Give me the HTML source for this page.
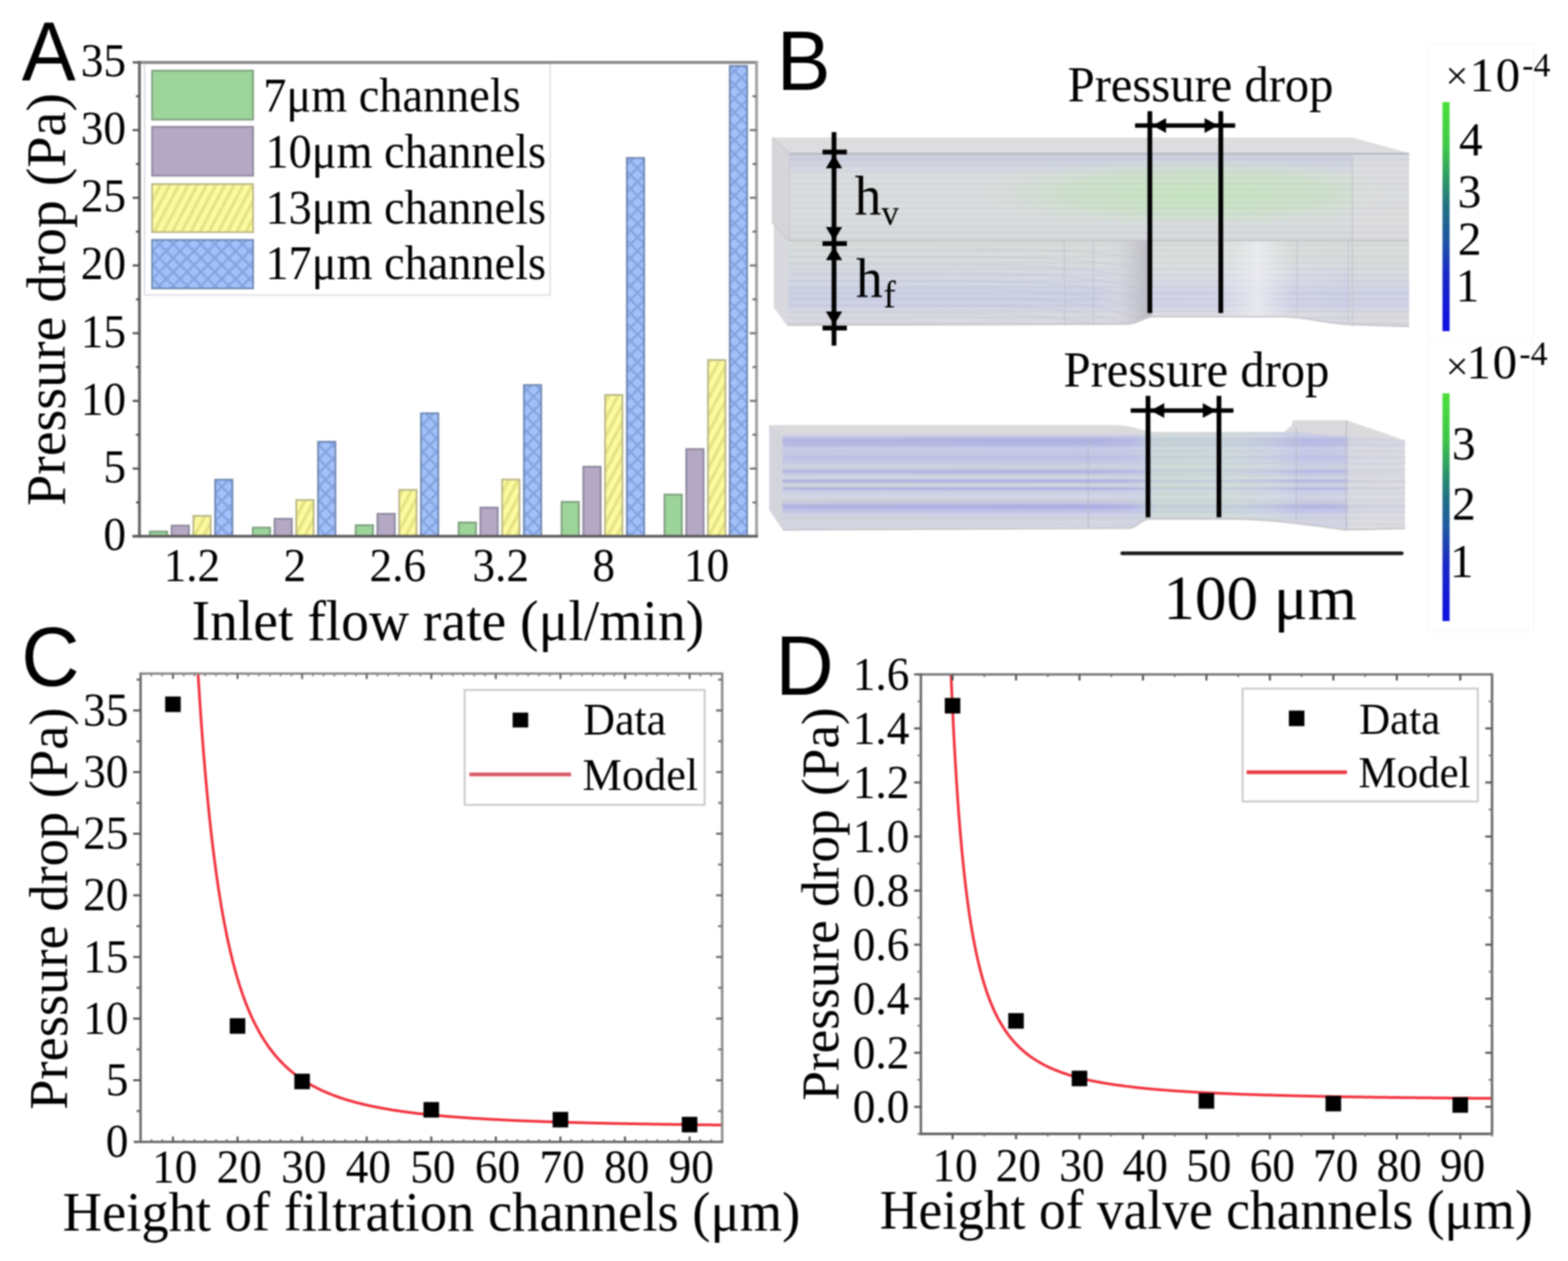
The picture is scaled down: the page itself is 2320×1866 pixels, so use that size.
<!DOCTYPE html>
<html><head><meta charset="utf-8"><title>Pressure drop figure</title>
<style>
html,body{margin:0;padding:0;background:#fff;}
svg{display:block;}
#fig{filter:blur(1px);width:2320px;height:1866px;}
</style></head>
<body>
<div id="fig"><svg width="2320" height="1866" viewBox="0 0 2320 1866">

<defs>
  <pattern id="hatchY" patternUnits="userSpaceOnUse" width="12" height="12" patternTransform="rotate(28)">
    <rect width="12" height="12" fill="#fbfa9e"/>
    <rect x="0" y="0" width="4.5" height="12" fill="#e6e284"/>
  </pattern>
  <pattern id="crossB" patternUnits="userSpaceOnUse" width="14.5" height="14.5" patternTransform="rotate(45)">
    <rect width="14.5" height="14.5" fill="#a2c0fa"/>
    <rect x="0" y="0" width="3.5" height="14.5" fill="#86a4e0"/>
    <rect x="0" y="0" width="14.5" height="3.5" fill="#86a4e0"/>
  </pattern>
  <linearGradient id="cbar" x1="0" y1="1" x2="0" y2="0">
    <stop offset="0" stop-color="#1010e0"/>
    <stop offset="0.25" stop-color="#1a2ac6"/>
    <stop offset="0.4" stop-color="#1e56a2"/>
    <stop offset="0.55" stop-color="#227282"/>
    <stop offset="0.66" stop-color="#2c9866"/>
    <stop offset="0.8" stop-color="#40c64a"/>
    <stop offset="1" stop-color="#4ce03c"/>
  </linearGradient>
  <pattern id="streamU" patternUnits="userSpaceOnUse" width="40" height="9">
    <rect width="40" height="9" fill="none"/>
    <line x1="0" y1="2" x2="40" y2="2" stroke="#b8bcd4" stroke-width="1.4" opacity="0.55"/>
    <line x1="0" y1="6.5" x2="40" y2="6.5" stroke="#eef0f4" stroke-width="1.2" opacity="0.5"/>
  </pattern>
  <pattern id="streamL" patternUnits="userSpaceOnUse" width="40" height="11">
    <rect width="40" height="11" fill="none"/>
    <line x1="0" y1="2.5" x2="40" y2="2.5" stroke="#a8aee0" stroke-width="3" opacity="0.75"/>
    <line x1="0" y1="7.5" x2="40" y2="7.5" stroke="#e4e6ee" stroke-width="2" opacity="0.6"/>
  </pattern>
  <linearGradient id="upFront" x1="0" y1="0" x2="1" y2="0">
    <stop offset="0" stop-color="#d6d9e2"/>
    <stop offset="0.45" stop-color="#d4dad8"/>
    <stop offset="0.65" stop-color="#cfdccf"/>
    <stop offset="0.85" stop-color="#d6dad8"/>
    <stop offset="1" stop-color="#dcdde0"/>
  </linearGradient>
  <linearGradient id="upGreen" x1="0" y1="0" x2="0" y2="1">
    <stop offset="0" stop-color="#c8dcc8" stop-opacity="0"/>
    <stop offset="0.45" stop-color="#c4e0c0" stop-opacity="0.8"/>
    <stop offset="1" stop-color="#c8dcc8" stop-opacity="0"/>
  </linearGradient>
  <linearGradient id="upBands" x1="0" y1="0" x2="0" y2="1">
    <stop offset="0" stop-color="#c4c8da" stop-opacity="0.85"/>
    <stop offset="0.12" stop-color="#ccd0e0" stop-opacity="0.8"/>
    <stop offset="0.2" stop-color="#d0d4e0" stop-opacity="0.45"/>
    <stop offset="0.32" stop-color="#dfe2e6" stop-opacity="0"/>
    <stop offset="0.75" stop-color="#dfe2e6" stop-opacity="0"/>
    <stop offset="0.88" stop-color="#ccd0dc" stop-opacity="0.35"/>
    <stop offset="1" stop-color="#d0d2da" stop-opacity="0.3"/>
  </linearGradient>
  <radialGradient id="upGreenH" cx="1770" cy="286" r="330" gradientUnits="userSpaceOnUse" gradientTransform="translate(1770 286) scale(1 0.16) translate(-1770 -286)">
    <stop offset="0" stop-color="#c4e4bc" stop-opacity="1"/>
    <stop offset="0.6" stop-color="#c8e0c4" stop-opacity="0.75"/>
    <stop offset="1" stop-color="#d4dcd4" stop-opacity="0"/>
  </radialGradient>
  <linearGradient id="cyl" x1="0" y1="0" x2="1" y2="0">
    <stop offset="0" stop-color="#dcdce2" stop-opacity="0"/>
    <stop offset="0.4" stop-color="#d6d6dc" stop-opacity="0.6"/>
    <stop offset="1" stop-color="#b4b4bc" stop-opacity="0.9"/>
  </linearGradient>
  <linearGradient id="bright" x1="0" y1="0" x2="1" y2="0">
    <stop offset="0" stop-color="#f0f0f2" stop-opacity="0"/>
    <stop offset="0.55" stop-color="#f0f0f4" stop-opacity="0.7"/>
    <stop offset="1" stop-color="#f0f0f2" stop-opacity="0"/>
  </linearGradient>
  <linearGradient id="loBands" x1="0" y1="356" x2="0" y2="481" gradientUnits="userSpaceOnUse">
    <stop offset="0" stop-color="#d6dcd6" stop-opacity="0.9"/>
    <stop offset="0.25" stop-color="#d6dcd8" stop-opacity="0.8"/>
    <stop offset="0.45" stop-color="#d0d4e0" stop-opacity="0.5"/>
    <stop offset="0.62" stop-color="#c8cce4" stop-opacity="0.75"/>
    <stop offset="0.78" stop-color="#cacde4" stop-opacity="0.7"/>
    <stop offset="0.86" stop-color="#d8d8de" stop-opacity="0.7"/>
    <stop offset="1" stop-color="#d6d6dc" stop-opacity="0.6"/>
  </linearGradient>
  <linearGradient id="loFront" x1="1166" y1="0" x2="2085" y2="0" gradientUnits="userSpaceOnUse">
    <stop offset="0" stop-color="#d6d8e2"/>
    <stop offset="0.49" stop-color="#d8dae4"/>
    <stop offset="0.585" stop-color="#e0e0e6"/>
    <stop offset="0.7" stop-color="#e2e2e8"/>
    <stop offset="0.82" stop-color="#e0e0e8"/>
    <stop offset="0.9" stop-color="#d4d4e6"/>
    <stop offset="0.905" stop-color="#dcdcde"/>
    <stop offset="1" stop-color="#dcdcde"/>
  </linearGradient>
  <linearGradient id="chan2" x1="0" y1="0" x2="1" y2="0">
    <stop offset="0" stop-color="#c4c6e6"/>
    <stop offset="0.6" stop-color="#c6c8e8"/>
    <stop offset="0.66" stop-color="#c8d8d6"/>
    <stop offset="0.8" stop-color="#ccdad6"/>
    <stop offset="0.86" stop-color="#cccfe6"/>
    <stop offset="1" stop-color="#d4d4e4"/>
  </linearGradient>
  <linearGradient id="stripeL" x1="0" y1="643" x2="0" y2="784" gradientUnits="userSpaceOnUse">
    <stop offset="0.0000" stop-color="#d0d2e4"/>
    <stop offset="0.0213" stop-color="#c0c4e6"/>
    <stop offset="0.0496" stop-color="#b0b4e0"/>
    <stop offset="0.0851" stop-color="#a8ace0"/>
    <stop offset="0.1135" stop-color="#b6bae4"/>
    <stop offset="0.1418" stop-color="#c4c6ea"/>
    <stop offset="0.1773" stop-color="#c8cae8"/>
    <stop offset="0.2057" stop-color="#c2c4e0"/>
    <stop offset="0.2340" stop-color="#babee6"/>
    <stop offset="0.2766" stop-color="#c0c2e8"/>
    <stop offset="0.3121" stop-color="#cdd0e0"/>
    <stop offset="0.3617" stop-color="#cbcde0"/>
    <stop offset="0.3901" stop-color="#a8ace2"/>
    <stop offset="0.4113" stop-color="#bcbfe4"/>
    <stop offset="0.4326" stop-color="#d6d8e0"/>
    <stop offset="0.4610" stop-color="#d2d4e0"/>
    <stop offset="0.4823" stop-color="#a4a8e2"/>
    <stop offset="0.5035" stop-color="#bcbfe2"/>
    <stop offset="0.5248" stop-color="#d4d6da"/>
    <stop offset="0.5461" stop-color="#cccfdc"/>
    <stop offset="0.5674" stop-color="#a8aae4"/>
    <stop offset="0.5887" stop-color="#c2c4e6"/>
    <stop offset="0.6170" stop-color="#d4d6e6"/>
    <stop offset="0.6667" stop-color="#d2d4e6"/>
    <stop offset="0.6950" stop-color="#ccd0d6"/>
    <stop offset="0.7234" stop-color="#bec0e0"/>
    <stop offset="0.7447" stop-color="#aaace2"/>
    <stop offset="0.7801" stop-color="#aeb0e4"/>
    <stop offset="0.8085" stop-color="#c4c8ea"/>
    <stop offset="0.8440" stop-color="#ced0e6"/>
    <stop offset="0.8723" stop-color="#d2d4dc"/>
    <stop offset="0.9078" stop-color="#d2d4dc"/>
    <stop offset="0.9362" stop-color="#d8d8e6"/>
    <stop offset="1.0000" stop-color="#d6d6e2"/>
  </linearGradient>
  <linearGradient id="tintL" x1="1158" y1="0" x2="2079" y2="0" gradientUnits="userSpaceOnUse">
    <stop offset="0" stop-color="#d0d2dc" stop-opacity="0.15"/>
    <stop offset="0.5" stop-color="#d0d2dc" stop-opacity="0"/>
    <stop offset="0.56" stop-color="#c8cce8" stop-opacity="0.25"/>
    <stop offset="0.6" stop-color="#cadcd2" stop-opacity="0.75"/>
    <stop offset="0.72" stop-color="#d0ddd6" stop-opacity="0.7"/>
    <stop offset="0.79" stop-color="#d4dde0" stop-opacity="0.5"/>
    <stop offset="0.84" stop-color="#c8cae8" stop-opacity="0.3"/>
    <stop offset="0.905" stop-color="#cfd0e6" stop-opacity="0.35"/>
    <stop offset="0.91" stop-color="#dcdce0" stop-opacity="0.8"/>
    <stop offset="1" stop-color="#dcdce0" stop-opacity="0.85"/>
  </linearGradient>
</defs>

<rect width="2320" height="1866" fill="#ffffff"/>
<rect x="221.7" y="786.58" width="25.6" height="7.02" fill="#9cd49a" stroke="#7c9e7c" stroke-width="2.6" />
<rect x="253.9" y="777.77" width="25.6" height="15.83" fill="#b4a8c4" stroke="#8c869c" stroke-width="2.6" />
<rect x="286.1" y="763.34" width="25.6" height="30.26" fill="url(#hatchY)" stroke="#bab686" stroke-width="2.6" />
<rect x="318.3" y="709.84" width="25.6" height="83.76" fill="url(#crossB)" stroke="#6e88b2" stroke-width="2.6" />
<rect x="374" y="780.77" width="25.6" height="12.83" fill="#9cd49a" stroke="#7c9e7c" stroke-width="2.6" />
<rect x="406.2" y="767.75" width="25.6" height="25.85" fill="#b4a8c4" stroke="#8c869c" stroke-width="2.6" />
<rect x="438.4" y="739.9" width="25.6" height="53.7" fill="url(#hatchY)" stroke="#bab686" stroke-width="2.6" />
<rect x="470.6" y="653.74" width="25.6" height="139.86" fill="url(#crossB)" stroke="#6e88b2" stroke-width="2.6" />
<rect x="526.3" y="777.17" width="25.6" height="16.43" fill="#9cd49a" stroke="#7c9e7c" stroke-width="2.6" />
<rect x="558.5" y="760.34" width="25.6" height="33.26" fill="#b4a8c4" stroke="#8c869c" stroke-width="2.6" />
<rect x="590.7" y="724.87" width="25.6" height="68.73" fill="url(#hatchY)" stroke="#bab686" stroke-width="2.6" />
<rect x="622.9" y="611.66" width="25.6" height="181.94" fill="url(#crossB)" stroke="#6e88b2" stroke-width="2.6" />
<rect x="678.6" y="773.16" width="25.6" height="20.44" fill="#9cd49a" stroke="#7c9e7c" stroke-width="2.6" />
<rect x="710.8" y="751.12" width="25.6" height="42.48" fill="#b4a8c4" stroke="#8c869c" stroke-width="2.6" />
<rect x="743" y="709.64" width="25.6" height="83.96" fill="url(#hatchY)" stroke="#bab686" stroke-width="2.6" />
<rect x="775.2" y="569.78" width="25.6" height="223.82" fill="url(#crossB)" stroke="#6e88b2" stroke-width="2.6" />
<rect x="830.9" y="742.7" width="25.6" height="50.9" fill="#9cd49a" stroke="#7c9e7c" stroke-width="2.6" />
<rect x="863.1" y="690.61" width="25.6" height="102.99" fill="#b4a8c4" stroke="#8c869c" stroke-width="2.6" />
<rect x="895.3" y="584.41" width="25.6" height="209.19" fill="url(#hatchY)" stroke="#bab686" stroke-width="2.6" />
<rect x="927.5" y="233.76" width="25.6" height="559.84" fill="url(#crossB)" stroke="#6e88b2" stroke-width="2.6" />
<rect x="983.2" y="731.88" width="25.6" height="61.72" fill="#9cd49a" stroke="#7c9e7c" stroke-width="2.6" />
<rect x="1015.4" y="664.56" width="25.6" height="129.04" fill="#b4a8c4" stroke="#8c869c" stroke-width="2.6" />
<rect x="1047.6" y="532.71" width="25.6" height="260.89" fill="url(#hatchY)" stroke="#bab686" stroke-width="2.6" />
<rect x="1079.8" y="97.51" width="25.6" height="696.09" fill="url(#crossB)" stroke="#6e88b2" stroke-width="2.6" />
<rect x="214" y="93.5" width="600" height="343" fill="none" stroke="#dcdae2" stroke-width="2" />
<rect x="225" y="104.5" width="149.5" height="72.5" fill="#9cd49a" stroke="#7c9e7c" stroke-width="2.5" />
<text transform="translate(389.5 164.7) scale(1 1.035)" font-size="68.5" text-anchor="start" font-family="'Liberation Serif', 'Times New Roman', serif" >7μm channels</text>
<rect x="225" y="187.7" width="149.5" height="72.3" fill="#b4a8c4" stroke="#8c869c" stroke-width="2.5" />
<text transform="translate(392.7 248) scale(1 1.035)" font-size="68.5" text-anchor="start" font-family="'Liberation Serif', 'Times New Roman', serif" >10μm channels</text>
<rect x="225" y="272.4" width="149.5" height="71.1" fill="url(#hatchY)" stroke="#bab686" stroke-width="2.5" />
<text transform="translate(392.7 330.5) scale(1 1.035)" font-size="68.5" text-anchor="start" font-family="'Liberation Serif', 'Times New Roman', serif" >13μm channels</text>
<rect x="225" y="355" width="149.5" height="71.8" fill="url(#crossB)" stroke="#6e88b2" stroke-width="2.5" />
<text transform="translate(392.7 413) scale(1 1.035)" font-size="68.5" text-anchor="start" font-family="'Liberation Serif', 'Times New Roman', serif" >17μm channels</text>
<line x1="206.3" y1="92.3" x2="1119.4" y2="92.3" stroke="#888488" stroke-width="4.2" />
<line x1="1119.4" y1="90.3" x2="1119.4" y2="793.6" stroke="#a0a0a0" stroke-width="4.2" />
<line x1="206.3" y1="90.3" x2="206.3" y2="795.6" stroke="#666666" stroke-width="4.2" />
<line x1="196" y1="793.6" x2="1121.4" y2="793.6" stroke="#5a5a5a" stroke-width="4" />
<line x1="201.3" y1="743.51" x2="206.3" y2="743.51" stroke="#555" stroke-width="3.2" />
<line x1="1113.4" y1="743.51" x2="1119.4" y2="743.51" stroke="#777" stroke-width="3.2" />
<line x1="196.3" y1="693.41" x2="206.3" y2="693.41" stroke="#555" stroke-width="3.2" />
<line x1="1109.4" y1="693.41" x2="1119.4" y2="693.41" stroke="#777" stroke-width="3.2" />
<line x1="201.3" y1="643.32" x2="206.3" y2="643.32" stroke="#555" stroke-width="3.2" />
<line x1="1113.4" y1="643.32" x2="1119.4" y2="643.32" stroke="#777" stroke-width="3.2" />
<line x1="196.3" y1="593.23" x2="206.3" y2="593.23" stroke="#555" stroke-width="3.2" />
<line x1="1109.4" y1="593.23" x2="1119.4" y2="593.23" stroke="#777" stroke-width="3.2" />
<line x1="201.3" y1="543.14" x2="206.3" y2="543.14" stroke="#555" stroke-width="3.2" />
<line x1="1113.4" y1="543.14" x2="1119.4" y2="543.14" stroke="#777" stroke-width="3.2" />
<line x1="196.3" y1="493.04" x2="206.3" y2="493.04" stroke="#555" stroke-width="3.2" />
<line x1="1109.4" y1="493.04" x2="1119.4" y2="493.04" stroke="#777" stroke-width="3.2" />
<line x1="201.3" y1="442.95" x2="206.3" y2="442.95" stroke="#555" stroke-width="3.2" />
<line x1="1113.4" y1="442.95" x2="1119.4" y2="442.95" stroke="#777" stroke-width="3.2" />
<line x1="196.3" y1="392.86" x2="206.3" y2="392.86" stroke="#555" stroke-width="3.2" />
<line x1="1109.4" y1="392.86" x2="1119.4" y2="392.86" stroke="#777" stroke-width="3.2" />
<line x1="201.3" y1="342.76" x2="206.3" y2="342.76" stroke="#555" stroke-width="3.2" />
<line x1="1113.4" y1="342.76" x2="1119.4" y2="342.76" stroke="#777" stroke-width="3.2" />
<line x1="196.3" y1="292.67" x2="206.3" y2="292.67" stroke="#555" stroke-width="3.2" />
<line x1="1109.4" y1="292.67" x2="1119.4" y2="292.67" stroke="#777" stroke-width="3.2" />
<line x1="201.3" y1="242.58" x2="206.3" y2="242.58" stroke="#555" stroke-width="3.2" />
<line x1="1113.4" y1="242.58" x2="1119.4" y2="242.58" stroke="#777" stroke-width="3.2" />
<line x1="196.3" y1="192.49" x2="206.3" y2="192.49" stroke="#555" stroke-width="3.2" />
<line x1="1109.4" y1="192.49" x2="1119.4" y2="192.49" stroke="#777" stroke-width="3.2" />
<line x1="201.3" y1="142.39" x2="206.3" y2="142.39" stroke="#555" stroke-width="3.2" />
<line x1="1113.4" y1="142.39" x2="1119.4" y2="142.39" stroke="#777" stroke-width="3.2" />
<line x1="196.3" y1="92.3" x2="206.3" y2="92.3" stroke="#555" stroke-width="3.2" />
<text transform="translate(186.5 814.1) scale(1 1.035)" font-size="67" text-anchor="end" font-family="'Liberation Serif', 'Times New Roman', serif" >0</text>
<text transform="translate(186.5 713.91) scale(1 1.035)" font-size="67" text-anchor="end" font-family="'Liberation Serif', 'Times New Roman', serif" >5</text>
<text transform="translate(186.5 613.73) scale(1 1.035)" font-size="67" text-anchor="end" font-family="'Liberation Serif', 'Times New Roman', serif" >10</text>
<text transform="translate(186.5 513.54) scale(1 1.035)" font-size="67" text-anchor="end" font-family="'Liberation Serif', 'Times New Roman', serif" >15</text>
<text transform="translate(186.5 413.36) scale(1 1.035)" font-size="67" text-anchor="end" font-family="'Liberation Serif', 'Times New Roman', serif" >20</text>
<text transform="translate(186.5 313.17) scale(1 1.035)" font-size="67" text-anchor="end" font-family="'Liberation Serif', 'Times New Roman', serif" >25</text>
<text transform="translate(186.5 212.99) scale(1 1.035)" font-size="67" text-anchor="end" font-family="'Liberation Serif', 'Times New Roman', serif" >30</text>
<text transform="translate(186.5 112.8) scale(1 1.035)" font-size="67" text-anchor="end" font-family="'Liberation Serif', 'Times New Roman', serif" >35</text>
<text transform="translate(284 859.5) scale(1 1.035)" font-size="67" text-anchor="middle" font-family="'Liberation Serif', 'Times New Roman', serif" >1.2</text>
<text transform="translate(436.3 859.5) scale(1 1.035)" font-size="67" text-anchor="middle" font-family="'Liberation Serif', 'Times New Roman', serif" >2</text>
<text transform="translate(588.6 859.5) scale(1 1.035)" font-size="67" text-anchor="middle" font-family="'Liberation Serif', 'Times New Roman', serif" >2.6</text>
<text transform="translate(740.9 859.5) scale(1 1.035)" font-size="67" text-anchor="middle" font-family="'Liberation Serif', 'Times New Roman', serif" >3.2</text>
<text transform="translate(893.2 859.5) scale(1 1.035)" font-size="67" text-anchor="middle" font-family="'Liberation Serif', 'Times New Roman', serif" >8</text>
<text transform="translate(1045.5 859.5) scale(1 1.035)" font-size="67" text-anchor="middle" font-family="'Liberation Serif', 'Times New Roman', serif" >10</text>
<text transform="translate(662.7 947.2) scale(1 1.035)" font-size="82.2" text-anchor="middle" font-family="'Liberation Serif', 'Times New Roman', serif" >Inlet flow rate (μl/min)</text>
<text transform="translate(95.7 443.2) rotate(-90)" font-size="82.7" text-anchor="middle" font-family="'Liberation Serif', 'Times New Roman', serif">Pressure drop (Pa)</text>
<path d="M1142,203.5 L2001,203.5 L2085,226.5 L1168,226.5 Z" fill="#dddde0"/>
<path d="M1142,203.5 L1168,226.5 L1168,356 L1142,329 Z" fill="#d6d6da"/>
<path d="M1142,329 L1166,356 L1166,484 L1145,455 L1145,329 Z" fill="#d8d8de"/>
<rect x="1168" y="226.5" width="917" height="129" fill="#d9dcdc"/>
<rect x="1168" y="226.5" width="917" height="129" fill="url(#upBands)"/>
<rect x="1168" y="226.5" width="917" height="129" fill="url(#upGreenH)"/>
<rect x="2001" y="226.5" width="84" height="129" fill="#dcdcde" opacity="0.75"/>
<rect x="1168" y="228" width="917" height="127" fill="url(#streamU)" opacity="0.45"/>
<line x1="1168" y1="227.5" x2="2085" y2="227.5" stroke="#babcc6" stroke-width="3"/>
<path d="M1166,356 L2085,356 L2085,483 L1995,480 C1960,478 1930,469 1900,468.5 L1705,468.5 C1690,470 1685,479 1668,479.5 L1166,481 Z" fill="url(#loFront)"/>
<path d="M1166,356 L2085,356 L2085,483 L1995,480 C1960,478 1930,469 1900,468.5 L1705,468.5 C1690,470 1685,479 1668,479.5 L1166,481 Z" fill="url(#loBands)"/>
<path d="M1166,356 L2085,356 L2085,483 L1995,480 C1960,478 1930,469 1900,468.5 L1705,468.5 C1690,470 1685,479 1668,479.5 L1166,481 Z" fill="url(#streamU)" opacity="0.6"/>
<path d="M1622,357 L1704,357 L1704,468.5 C1690,470 1685,479 1668,479.5 L1622,480 Z" fill="url(#cyl)"/>
<rect x="1800" y="357" width="110" height="111" fill="url(#bright)"/>
<clipPath id="clipLo"><path d="M1166,356 L2085,356 L2085,483 L1995,480 C1960,478 1930,469 1900,468.5 L1705,468.5 C1690,470 1685,479 1668,479.5 L1166,481 Z"/></clipPath>
<g clip-path="url(#clipLo)">
<path d="M1170,368 L1380,368 C1520,368 1600,370 1690,382" fill="none" stroke="#b8bcd8" stroke-width="1.3" opacity="0.45"/>
<path d="M1170,380 L1380,380 C1520,380 1600,382 1690,397" fill="none" stroke="#b8bcd8" stroke-width="1.3" opacity="0.45"/>
<path d="M1170,392 L1380,392 C1520,392 1600,394 1690,412" fill="none" stroke="#b8bcd8" stroke-width="1.3" opacity="0.45"/>
<path d="M1170,404 L1380,404 C1520,404 1600,406 1690,427" fill="none" stroke="#b8bcd8" stroke-width="1.3" opacity="0.45"/>
<path d="M1170,416 L1380,416 C1520,416 1600,418 1690,442" fill="none" stroke="#b8bcd8" stroke-width="1.3" opacity="0.45"/>
<path d="M1170,428 L1380,428 C1520,428 1600,430 1690,457" fill="none" stroke="#b8bcd8" stroke-width="1.3" opacity="0.45"/>
<path d="M1170,440 L1380,440 C1520,440 1600,442 1690,472" fill="none" stroke="#b8bcd8" stroke-width="1.3" opacity="0.45"/>
<path d="M1170,452 L1380,452 C1520,452 1600,454 1690,487" fill="none" stroke="#b8bcd8" stroke-width="1.3" opacity="0.45"/>
<path d="M1170,464 L1380,464 C1520,464 1600,466 1690,502" fill="none" stroke="#b8bcd8" stroke-width="1.3" opacity="0.45"/>
</g>
<line x1="1166" y1="356" x2="2085" y2="356" stroke="#c2c4ca" stroke-width="2.5"/>
<line x1="1575" y1="356" x2="1575" y2="481" stroke="#c2c4ce" stroke-width="1.5" />
<line x1="1618" y1="356" x2="1618" y2="481" stroke="#c2c4ce" stroke-width="1.5" />
<line x1="2001" y1="228" x2="2001" y2="483" stroke="#c2c4ce" stroke-width="1.5" />
<line x1="1995" y1="356" x2="1995" y2="481" stroke="#c2c4ce" stroke-width="1.5" />
<line x1="1919" y1="356" x2="1919" y2="468" stroke="#c2c4ce" stroke-width="1.5" />
<line x1="1168" y1="226.5" x2="1168" y2="356" stroke="#c8c8cc" stroke-width="1.5"/>
<line x1="1142" y1="329" x2="1167" y2="356" stroke="#c4c4ca" stroke-width="1.5"/>
<line x1="1142" y1="203.5" x2="1168" y2="226.5" stroke="#c8c8cc" stroke-width="1.5"/>
<path d="M1166,481 L1668,479.5 C1685,479 1690,470 1705,468.5 L1900,468.5 C1930,469 1960,478 1995,480 L2085,483" fill="none" stroke="#c8c8ce" stroke-width="2.5"/>
<path d="M1138,629 L1650,629 C1680,630 1690,638 1705,639 L1900,639 C1905,636 1908,631 1911,630 L1913,621.7 L1992,621.7 L2079,652 L1158,652 Z" fill="#dadadc"/>
<path d="M1138,629 L1158,643 L1158,784 L1138,754 Z" fill="#d4d4dc"/>
<path d="M1158,643 L1700,643 L1910,639 L2079,652 L2079,782 L1990,784 C1950,778 1880,769 1832,768 L1698,768 C1688,770 1682,780 1672,781.5 L1158,784 Z" fill="url(#stripeL)"/>
<path d="M1158,643 L1700,643 L1910,639 L2079,652 L2079,782 L1990,784 C1950,778 1880,769 1832,768 L1698,768 C1688,770 1682,780 1672,781.5 L1158,784 Z" fill="url(#tintL)"/>
<path d="M1158,643 L1700,643 L1910,639 L2079,652 L2079,782 L1990,784 C1950,778 1880,769 1832,768 L1698,768 C1688,770 1682,780 1672,781.5 L1158,784 Z" fill="url(#streamU)" opacity="0.5"/>
<line x1="1610" y1="646" x2="1610" y2="783" stroke="#b8bac8" stroke-width="1.5" />
<line x1="1992" y1="622" x2="1992" y2="784" stroke="#b8bac8" stroke-width="1.5" />
<line x1="1918" y1="632" x2="1918" y2="772" stroke="#b8bac8" stroke-width="1.5" />
<path d="M1158,784 L1672,781.5 C1682,780 1688,770 1698,768 L1832,768 C1880,769 1950,778 1990,784 L2079,782" fill="none" stroke="#c8c8cc" stroke-width="2.5"/>
<line x1="1234" y1="195.5" x2="1234" y2="511.5" stroke="#000" stroke-width="7" />
<line x1="1217" y1="225" x2="1253" y2="225" stroke="#000" stroke-width="7" />
<line x1="1217" y1="360.5" x2="1253" y2="360.5" stroke="#000" stroke-width="7" />
<line x1="1217" y1="485.5" x2="1253" y2="485.5" stroke="#000" stroke-width="7" />
<path d="M1234,229 L1222,249 L1246,249 Z" fill="#000"/>
<path d="M1234,356 L1222,336 L1246,336 Z" fill="#000"/>
<path d="M1234,365 L1222,385 L1246,385 Z" fill="#000"/>
<path d="M1234,481 L1222,461 L1246,461 Z" fill="#000"/>
<line x1="1701.3" y1="164.5" x2="1701.3" y2="463.3" stroke="#000" stroke-width="7" />
<line x1="1806.3" y1="164.5" x2="1806.3" y2="463.3" stroke="#000" stroke-width="7" />
<line x1="1679.4" y1="185.7" x2="1827.5" y2="185.7" stroke="#000" stroke-width="6.5" />
<path d="M1705.3,185.7 L1725.3,174.7 L1725.3,196.7 Z" fill="#000"/>
<path d="M1802.3,185.7 L1782.3,174.7 L1782.3,196.7 Z" fill="#000"/>
<line x1="1698.6" y1="585.8" x2="1698.6" y2="765.5" stroke="#000" stroke-width="7" />
<line x1="1803.6" y1="585.8" x2="1803.6" y2="765.5" stroke="#000" stroke-width="7" />
<line x1="1673" y1="607.4" x2="1825" y2="607.4" stroke="#000" stroke-width="6.5" />
<path d="M1702.6,607.4 L1722.6,596.4 L1722.6,618.4 Z" fill="#000"/>
<path d="M1799.6,607.4 L1779.6,596.4 L1779.6,618.4 Z" fill="#000"/>
<text transform="translate(1579.7 150.4) scale(1 1.035)" font-size="71.9" text-anchor="start" font-family="'Liberation Serif', 'Times New Roman', serif" >Pressure drop</text>
<text transform="translate(1573.7 572.2) scale(1 1.035)" font-size="71.9" text-anchor="start" font-family="'Liberation Serif', 'Times New Roman', serif" >Pressure drop</text>
<text transform="translate(1264.5 317.3) scale(1 1.035)" font-size="79" text-anchor="start" font-family="'Liberation Serif', 'Times New Roman', serif" >h</text>
<text transform="translate(1304 332) scale(1 1.035)" font-size="52" text-anchor="start" font-family="'Liberation Serif', 'Times New Roman', serif" >v</text>
<text transform="translate(1266.5 438.8) scale(1 1.035)" font-size="79" text-anchor="start" font-family="'Liberation Serif', 'Times New Roman', serif" >h</text>
<text transform="translate(1307 455) scale(1 1.035)" font-size="55" text-anchor="start" font-family="'Liberation Serif', 'Times New Roman', serif" >f</text>
<line x1="1660.5" y1="818.7" x2="2074" y2="818.7" stroke="#1c1c1c" stroke-width="5.5" stroke-linecap="round"/>
<text transform="translate(1721.2 916.3) scale(1 1.0)" font-size="93.5" text-anchor="start" font-family="'Liberation Serif', 'Times New Roman', serif" >100 μm</text>
<rect x="2113" y="65.5" width="156" height="434.5" fill="none" stroke="#f6f6f6" stroke-width="1.5" />
<rect x="2134.3" y="151" width="10.5" height="339" fill="url(#cbar)" stroke="none" stroke-width="0" />
<text transform="translate(2158.63 230) scale(1 1.0)" font-size="70" text-anchor="start" font-family="'Liberation Serif', 'Times New Roman', serif" >4</text>
<text transform="translate(2156.65 307) scale(1 1.0)" font-size="70" text-anchor="start" font-family="'Liberation Serif', 'Times New Roman', serif" >3</text>
<text transform="translate(2156.92 376.5) scale(1 1.0)" font-size="70" text-anchor="start" font-family="'Liberation Serif', 'Times New Roman', serif" >2</text>
<text transform="translate(2153.85 446) scale(1 1.0)" font-size="70" text-anchor="start" font-family="'Liberation Serif', 'Times New Roman', serif" >1</text>
<text transform="translate(2138.65 132.1) scale(1 1.0)" font-size="60" text-anchor="start" font-family="'Liberation Serif', 'Times New Roman', serif" >×</text>
<text transform="translate(2174.13 135) scale(1 1.0)" font-size="72.5" text-anchor="start" font-family="'Liberation Serif', 'Times New Roman', serif" letter-spacing="2.5">10</text>
<text transform="translate(2252.34 113) scale(1 1.0)" font-size="50" text-anchor="start" font-family="'Liberation Serif', 'Times New Roman', serif" >-4</text>
<rect x="2113" y="505" width="156" height="430" fill="none" stroke="#f6f6f6" stroke-width="1.5" />
<rect x="2134.3" y="582" width="10.5" height="337" fill="url(#cbar)" stroke="none" stroke-width="0" />
<text transform="translate(2148.15 679.5) scale(1 1.0)" font-size="70" text-anchor="start" font-family="'Liberation Serif', 'Times New Roman', serif" >3</text>
<text transform="translate(2148.42 769) scale(1 1.0)" font-size="70" text-anchor="start" font-family="'Liberation Serif', 'Times New Roman', serif" >2</text>
<text transform="translate(2145.35 854) scale(1 1.0)" font-size="70" text-anchor="start" font-family="'Liberation Serif', 'Times New Roman', serif" >1</text>
<text transform="translate(2139.05 561.5) scale(1 1.0)" font-size="60" text-anchor="start" font-family="'Liberation Serif', 'Times New Roman', serif" >×</text>
<text transform="translate(2169.73 560) scale(1 1.0)" font-size="72.5" text-anchor="start" font-family="'Liberation Serif', 'Times New Roman', serif" letter-spacing="2.5">10</text>
<text transform="translate(2248.04 540) scale(1 1.0)" font-size="50" text-anchor="start" font-family="'Liberation Serif', 'Times New Roman', serif" >-4</text>
<path d="M293.05,996.8 L293.05,996.8 L294.99,1027.55 L296.92,1056.33 L298.86,1083.31 L300.8,1108.62 L302.74,1132.39 L304.67,1154.76 L306.61,1175.81 L308.55,1195.66 L310.49,1214.38 L312.42,1232.07 L314.36,1248.78 L316.3,1264.6 L318.24,1279.59 L320.17,1293.79 L322.11,1307.26 L324.05,1320.06 L325.99,1332.21 L327.92,1343.77 L329.86,1354.78 L331.8,1365.25 L333.74,1375.24 L335.67,1384.76 L337.61,1393.85 L339.55,1402.53 L341.49,1410.83 L343.42,1418.76 L345.36,1426.34 L347.3,1433.6 L349.24,1440.56 L351.17,1447.22 L353.11,1453.61 L355.05,1459.74 L356.99,1465.63 L358.92,1471.28 L360.86,1476.71 L362.8,1481.92 L364.74,1486.94 L366.68,1491.77 L368.61,1496.42 L370.55,1500.89 L372.49,1505.2 L374.43,1509.36 L376.36,1513.36 L378.3,1517.22 L380.24,1520.95 L382.18,1524.55 L384.11,1528.02 L386.05,1531.38 L387.99,1534.62 L389.93,1537.75 L391.86,1540.78 L393.8,1543.72 L395.74,1546.55 L397.68,1549.3 L399.61,1551.96 L401.55,1554.53 L403.49,1557.02 L405.43,1559.44 L407.36,1561.78 L409.3,1564.06 L411.24,1566.26 L413.18,1568.4 L415.11,1570.47 L417.05,1572.49 L418.99,1574.44 L420.93,1576.34 L422.86,1578.19 L424.8,1579.98 L426.74,1581.72 L428.68,1583.42 L430.61,1585.06 L432.55,1586.67 L434.49,1588.23 L436.43,1589.74 L438.37,1591.22 L440.3,1592.66 L442.24,1594.06 L444.18,1595.42 L446.12,1596.75 L448.05,1598.04 L449.99,1599.3 L451.93,1600.53 L453.87,1601.73 L455.8,1602.89 L457.74,1604.03 L459.68,1605.14 L461.62,1606.23 L463.55,1607.29 L465.49,1608.32 L467.43,1609.33 L469.37,1610.31 L471.3,1611.27 L473.24,1612.21 L475.18,1613.13 L477.12,1614.02 L479.05,1614.9 L480.99,1615.75 L482.93,1616.59 L484.87,1617.4 L486.8,1618.2 L488.74,1618.98 L490.68,1619.75 L492.62,1620.5 L494.55,1621.23 L496.49,1621.94 L498.43,1622.64 L500.37,1623.33 L502.3,1624 L504.24,1624.65 L506.18,1625.3 L508.12,1625.93 L510.06,1626.54 L511.99,1627.15 L513.93,1627.74 L515.87,1628.32 L517.81,1628.89 L519.74,1629.44 L521.68,1629.99 L523.62,1630.52 L525.56,1631.05 L527.49,1631.56 L529.43,1632.07 L531.37,1632.56 L533.31,1633.05 L535.24,1633.52 L537.18,1633.99 L539.12,1634.45 L541.06,1634.89 L542.99,1635.34 L544.93,1635.77 L546.87,1636.19 L548.81,1636.61 L550.74,1637.02 L552.68,1637.42 L554.62,1637.82 L556.56,1638.2 L558.49,1638.58 L560.43,1638.96 L562.37,1639.32 L564.31,1639.68 L566.24,1640.04 L568.18,1640.39 L570.12,1640.73 L572.06,1641.07 L573.99,1641.4 L575.93,1641.72 L577.87,1642.04 L579.81,1642.35 L581.75,1642.66 L583.68,1642.97 L585.62,1643.27 L587.56,1643.56 L589.5,1643.85 L591.43,1644.13 L593.37,1644.41 L595.31,1644.69 L597.25,1644.96 L599.18,1645.22 L601.12,1645.48 L603.06,1645.74 L605,1646 L606.93,1646.25 L608.87,1646.49 L610.81,1646.73 L612.75,1646.97 L614.68,1647.21 L616.62,1647.44 L618.56,1647.66 L620.5,1647.89 L622.43,1648.11 L624.37,1648.32 L626.31,1648.54 L628.25,1648.75 L630.18,1648.96 L632.12,1649.16 L634.06,1649.36 L636,1649.56 L637.93,1649.76 L639.87,1649.95 L641.81,1650.14 L643.75,1650.33 L645.68,1650.51 L647.62,1650.69 L649.56,1650.87 L651.5,1651.05 L653.44,1651.22 L655.37,1651.39 L657.31,1651.56 L659.25,1651.73 L661.19,1651.89 L663.12,1652.06 L665.06,1652.22 L667,1652.37 L668.94,1652.53 L670.87,1652.68 L672.81,1652.83 L674.75,1652.98 L676.69,1653.13 L678.62,1653.28 L680.56,1653.42 L682.5,1653.56 L684.44,1653.7 L686.37,1653.84 L688.31,1653.98 L690.25,1654.11 L692.19,1654.24 L694.12,1654.37 L696.06,1654.5 L698,1654.63 L699.94,1654.75 L701.87,1654.88 L703.81,1655 L705.75,1655.12 L707.69,1655.24 L709.62,1655.36 L711.56,1655.48 L713.5,1655.59 L715.44,1655.71 L717.38,1655.82 L719.31,1655.93 L721.25,1656.04 L723.19,1656.15 L725.13,1656.25 L727.06,1656.36 L729,1656.46 L730.94,1656.57 L732.88,1656.67 L734.81,1656.77 L736.75,1656.87 L738.69,1656.96 L740.63,1657.06 L742.56,1657.16 L744.5,1657.25 L746.44,1657.35 L748.38,1657.44 L750.31,1657.53 L752.25,1657.62 L754.19,1657.71 L756.13,1657.8 L758.06,1657.88 L760,1657.97 L761.94,1658.06 L763.88,1658.14 L765.81,1658.22 L767.75,1658.31 L769.69,1658.39 L771.63,1658.47 L773.56,1658.55 L775.5,1658.63 L777.44,1658.7 L779.38,1658.78 L781.31,1658.86 L783.25,1658.93 L785.19,1659.01 L787.13,1659.08 L789.07,1659.15 L791,1659.22 L792.94,1659.3 L794.88,1659.37 L796.82,1659.44 L798.75,1659.5 L800.69,1659.57 L802.63,1659.64 L804.57,1659.71 L806.5,1659.77 L808.44,1659.84 L810.38,1659.9 L812.32,1659.97 L814.25,1660.03 L816.19,1660.09 L818.13,1660.15 L820.07,1660.22 L822,1660.28 L823.94,1660.34 L825.88,1660.4 L827.82,1660.46 L829.75,1660.51 L831.69,1660.57 L833.63,1660.63 L835.57,1660.68 L837.5,1660.74 L839.44,1660.8 L841.38,1660.85 L843.32,1660.91 L845.25,1660.96 L847.19,1661.01 L849.13,1661.06 L851.07,1661.12 L853,1661.17 L854.94,1661.22 L856.88,1661.27 L858.82,1661.32 L860.76,1661.37 L862.69,1661.42 L864.63,1661.47 L866.57,1661.52 L868.51,1661.56 L870.44,1661.61 L872.38,1661.66 L874.32,1661.7 L876.26,1661.75 L878.19,1661.8 L880.13,1661.84 L882.07,1661.89 L884.01,1661.93 L885.94,1661.97 L887.88,1662.02 L889.82,1662.06 L891.76,1662.1 L893.69,1662.15 L895.63,1662.19 L897.57,1662.23 L899.51,1662.27 L901.44,1662.31 L903.38,1662.35 L905.32,1662.39 L907.26,1662.43 L909.19,1662.47 L911.13,1662.51 L913.07,1662.55 L915.01,1662.58 L916.94,1662.62 L918.88,1662.66 L920.82,1662.7 L922.76,1662.73 L924.69,1662.77 L926.63,1662.81 L928.57,1662.84 L930.51,1662.88 L932.45,1662.91 L934.38,1662.95 L936.32,1662.98 L938.26,1663.02 L940.2,1663.05 L942.13,1663.08 L944.07,1663.12 L946.01,1663.15 L947.95,1663.18 L949.88,1663.22 L951.82,1663.25 L953.76,1663.28 L955.7,1663.31 L957.63,1663.34 L959.57,1663.37 L961.51,1663.41 L963.45,1663.44 L965.38,1663.47 L967.32,1663.5 L969.26,1663.53 L971.2,1663.56 L973.13,1663.59 L975.07,1663.62 L977.01,1663.64 L978.95,1663.67 L980.88,1663.7 L982.82,1663.73 L984.76,1663.76 L986.7,1663.79 L988.63,1663.81 L990.57,1663.84 L992.51,1663.87 L994.45,1663.89 L996.38,1663.92 L998.32,1663.95 L1000.26,1663.97 L1002.2,1664 L1004.14,1664.02 L1006.07,1664.05 L1008.01,1664.08 L1009.95,1664.1 L1011.89,1664.13 L1013.82,1664.15 L1015.76,1664.18 L1017.7,1664.2 L1019.64,1664.22 L1021.57,1664.25 L1023.51,1664.27 L1025.45,1664.3 L1027.39,1664.32 L1029.32,1664.34 L1031.26,1664.37 L1033.2,1664.39 L1035.14,1664.41 L1037.07,1664.43 L1039.01,1664.46 L1040.95,1664.48 L1042.89,1664.5 L1044.82,1664.52 L1046.76,1664.54 L1048.7,1664.57 L1050.64,1664.59 L1052.57,1664.61 L1054.51,1664.63 L1056.45,1664.65 L1058.39,1664.67 L1060.32,1664.69 L1062.26,1664.71 L1064.2,1664.73 L1066.14,1664.75 L1068.08,1664.77" fill="none" stroke="#f2303c" stroke-width="4"/>
<rect x="244.4" y="1030.68" width="23" height="23" fill="#000" stroke="none" stroke-width="0" />
<rect x="339.95" y="1506.74" width="23" height="23" fill="#000" stroke="none" stroke-width="0" />
<rect x="435.5" y="1588.82" width="23" height="23" fill="#000" stroke="none" stroke-width="0" />
<rect x="626.6" y="1630.78" width="23" height="23" fill="#000" stroke="none" stroke-width="0" />
<rect x="817.7" y="1645.37" width="23" height="23" fill="#000" stroke="none" stroke-width="0" />
<rect x="1008.8" y="1652.66" width="23" height="23" fill="#000" stroke="none" stroke-width="0" />
<rect x="687.5" y="1021" width="355" height="170" fill="none" stroke="#cdcdcd" stroke-width="3" />
<rect x="758.5" y="1054.5" width="23" height="22" fill="#000" stroke="none" stroke-width="0" />
<line x1="694.5" y1="1146" x2="845" y2="1146" stroke="#d85a64" stroke-width="5.5" />
<text transform="translate(863 1087.4) scale(1 1.035)" font-size="65" text-anchor="start" font-family="'Liberation Serif', 'Times New Roman', serif" >Data</text>
<text transform="translate(862 1169.2) scale(1 1.035)" font-size="65.5" text-anchor="start" font-family="'Liberation Serif', 'Times New Roman', serif" >Model</text>
<line x1="208" y1="996.8" x2="1068.5" y2="996.8" stroke="#8c8c8c" stroke-width="3.6" />
<line x1="1068.5" y1="995.3" x2="1068.5" y2="1689.7" stroke="#8a8a8a" stroke-width="3.6" />
<line x1="208" y1="995.3" x2="208" y2="1691.2" stroke="#6a6a6a" stroke-width="3.6" />
<line x1="198" y1="1689.7" x2="1070" y2="1689.7" stroke="#666" stroke-width="3.6" />
<line x1="202" y1="1644.1" x2="208" y2="1644.1" stroke="#666" stroke-width="3" />
<line x1="1062.5" y1="1644.1" x2="1068.5" y2="1644.1" stroke="#777" stroke-width="3" />
<line x1="197" y1="1598.5" x2="208" y2="1598.5" stroke="#555" stroke-width="3" />
<line x1="1059.5" y1="1598.5" x2="1068.5" y2="1598.5" stroke="#666" stroke-width="3" />
<line x1="202" y1="1552.9" x2="208" y2="1552.9" stroke="#666" stroke-width="3" />
<line x1="1062.5" y1="1552.9" x2="1068.5" y2="1552.9" stroke="#777" stroke-width="3" />
<line x1="197" y1="1507.3" x2="208" y2="1507.3" stroke="#555" stroke-width="3" />
<line x1="1059.5" y1="1507.3" x2="1068.5" y2="1507.3" stroke="#666" stroke-width="3" />
<line x1="202" y1="1461.7" x2="208" y2="1461.7" stroke="#666" stroke-width="3" />
<line x1="1062.5" y1="1461.7" x2="1068.5" y2="1461.7" stroke="#777" stroke-width="3" />
<line x1="197" y1="1416.1" x2="208" y2="1416.1" stroke="#555" stroke-width="3" />
<line x1="1059.5" y1="1416.1" x2="1068.5" y2="1416.1" stroke="#666" stroke-width="3" />
<line x1="202" y1="1370.5" x2="208" y2="1370.5" stroke="#666" stroke-width="3" />
<line x1="1062.5" y1="1370.5" x2="1068.5" y2="1370.5" stroke="#777" stroke-width="3" />
<line x1="197" y1="1324.9" x2="208" y2="1324.9" stroke="#555" stroke-width="3" />
<line x1="1059.5" y1="1324.9" x2="1068.5" y2="1324.9" stroke="#666" stroke-width="3" />
<line x1="202" y1="1279.3" x2="208" y2="1279.3" stroke="#666" stroke-width="3" />
<line x1="1062.5" y1="1279.3" x2="1068.5" y2="1279.3" stroke="#777" stroke-width="3" />
<line x1="197" y1="1233.7" x2="208" y2="1233.7" stroke="#555" stroke-width="3" />
<line x1="1059.5" y1="1233.7" x2="1068.5" y2="1233.7" stroke="#666" stroke-width="3" />
<line x1="202" y1="1188.1" x2="208" y2="1188.1" stroke="#666" stroke-width="3" />
<line x1="1062.5" y1="1188.1" x2="1068.5" y2="1188.1" stroke="#777" stroke-width="3" />
<line x1="197" y1="1142.5" x2="208" y2="1142.5" stroke="#555" stroke-width="3" />
<line x1="1059.5" y1="1142.5" x2="1068.5" y2="1142.5" stroke="#666" stroke-width="3" />
<line x1="202" y1="1096.9" x2="208" y2="1096.9" stroke="#666" stroke-width="3" />
<line x1="1062.5" y1="1096.9" x2="1068.5" y2="1096.9" stroke="#777" stroke-width="3" />
<line x1="197" y1="1051.3" x2="208" y2="1051.3" stroke="#555" stroke-width="3" />
<line x1="1059.5" y1="1051.3" x2="1068.5" y2="1051.3" stroke="#666" stroke-width="3" />
<line x1="202" y1="1005.7" x2="208" y2="1005.7" stroke="#666" stroke-width="3" />
<line x1="1062.5" y1="1005.7" x2="1068.5" y2="1005.7" stroke="#777" stroke-width="3" />
<text transform="translate(190 1712.2) scale(1 1.035)" font-size="67" text-anchor="end" font-family="'Liberation Serif', 'Times New Roman', serif" >0</text>
<text transform="translate(190 1621) scale(1 1.035)" font-size="67" text-anchor="end" font-family="'Liberation Serif', 'Times New Roman', serif" >5</text>
<text transform="translate(190 1529.8) scale(1 1.035)" font-size="67" text-anchor="end" font-family="'Liberation Serif', 'Times New Roman', serif" >10</text>
<text transform="translate(190 1438.6) scale(1 1.035)" font-size="67" text-anchor="end" font-family="'Liberation Serif', 'Times New Roman', serif" >15</text>
<text transform="translate(190 1347.4) scale(1 1.035)" font-size="67" text-anchor="end" font-family="'Liberation Serif', 'Times New Roman', serif" >20</text>
<text transform="translate(190 1256.2) scale(1 1.035)" font-size="67" text-anchor="end" font-family="'Liberation Serif', 'Times New Roman', serif" >25</text>
<text transform="translate(190 1165) scale(1 1.035)" font-size="67" text-anchor="end" font-family="'Liberation Serif', 'Times New Roman', serif" >30</text>
<text transform="translate(190 1073.8) scale(1 1.035)" font-size="67" text-anchor="end" font-family="'Liberation Serif', 'Times New Roman', serif" >35</text>
<line x1="255.9" y1="1689.7" x2="255.9" y2="1681.7" stroke="#555" stroke-width="3" />
<line x1="255.9" y1="996.8" x2="255.9" y2="1004.8" stroke="#666" stroke-width="3" />
<line x1="351.45" y1="1689.7" x2="351.45" y2="1681.7" stroke="#555" stroke-width="3" />
<line x1="351.45" y1="996.8" x2="351.45" y2="1004.8" stroke="#666" stroke-width="3" />
<line x1="447" y1="1689.7" x2="447" y2="1681.7" stroke="#555" stroke-width="3" />
<line x1="447" y1="996.8" x2="447" y2="1004.8" stroke="#666" stroke-width="3" />
<line x1="542.55" y1="1689.7" x2="542.55" y2="1681.7" stroke="#555" stroke-width="3" />
<line x1="542.55" y1="996.8" x2="542.55" y2="1004.8" stroke="#666" stroke-width="3" />
<line x1="638.1" y1="1689.7" x2="638.1" y2="1681.7" stroke="#555" stroke-width="3" />
<line x1="638.1" y1="996.8" x2="638.1" y2="1004.8" stroke="#666" stroke-width="3" />
<line x1="733.65" y1="1689.7" x2="733.65" y2="1681.7" stroke="#555" stroke-width="3" />
<line x1="733.65" y1="996.8" x2="733.65" y2="1004.8" stroke="#666" stroke-width="3" />
<line x1="829.2" y1="1689.7" x2="829.2" y2="1681.7" stroke="#555" stroke-width="3" />
<line x1="829.2" y1="996.8" x2="829.2" y2="1004.8" stroke="#666" stroke-width="3" />
<line x1="924.75" y1="1689.7" x2="924.75" y2="1681.7" stroke="#555" stroke-width="3" />
<line x1="924.75" y1="996.8" x2="924.75" y2="1004.8" stroke="#666" stroke-width="3" />
<line x1="1020.3" y1="1689.7" x2="1020.3" y2="1681.7" stroke="#555" stroke-width="3" />
<line x1="1020.3" y1="996.8" x2="1020.3" y2="1004.8" stroke="#666" stroke-width="3" />
<line x1="208.12" y1="1689.7" x2="208.12" y2="1685.7" stroke="#777" stroke-width="2.5" />
<line x1="208.12" y1="996.8" x2="208.12" y2="1000.8" stroke="#888" stroke-width="2.5" />
<line x1="224.05" y1="1689.7" x2="224.05" y2="1685.7" stroke="#777" stroke-width="2.5" />
<line x1="224.05" y1="996.8" x2="224.05" y2="1000.8" stroke="#888" stroke-width="2.5" />
<line x1="239.98" y1="1689.7" x2="239.98" y2="1685.7" stroke="#777" stroke-width="2.5" />
<line x1="239.98" y1="996.8" x2="239.98" y2="1000.8" stroke="#888" stroke-width="2.5" />
<line x1="271.83" y1="1689.7" x2="271.83" y2="1685.7" stroke="#777" stroke-width="2.5" />
<line x1="271.83" y1="996.8" x2="271.83" y2="1000.8" stroke="#888" stroke-width="2.5" />
<line x1="287.75" y1="1689.7" x2="287.75" y2="1685.7" stroke="#777" stroke-width="2.5" />
<line x1="287.75" y1="996.8" x2="287.75" y2="1000.8" stroke="#888" stroke-width="2.5" />
<line x1="303.68" y1="1689.7" x2="303.68" y2="1685.7" stroke="#777" stroke-width="2.5" />
<line x1="303.68" y1="996.8" x2="303.68" y2="1000.8" stroke="#888" stroke-width="2.5" />
<line x1="319.6" y1="1689.7" x2="319.6" y2="1685.7" stroke="#777" stroke-width="2.5" />
<line x1="319.6" y1="996.8" x2="319.6" y2="1000.8" stroke="#888" stroke-width="2.5" />
<line x1="335.53" y1="1689.7" x2="335.53" y2="1685.7" stroke="#777" stroke-width="2.5" />
<line x1="335.53" y1="996.8" x2="335.53" y2="1000.8" stroke="#888" stroke-width="2.5" />
<line x1="367.38" y1="1689.7" x2="367.38" y2="1685.7" stroke="#777" stroke-width="2.5" />
<line x1="367.38" y1="996.8" x2="367.38" y2="1000.8" stroke="#888" stroke-width="2.5" />
<line x1="383.3" y1="1689.7" x2="383.3" y2="1685.7" stroke="#777" stroke-width="2.5" />
<line x1="383.3" y1="996.8" x2="383.3" y2="1000.8" stroke="#888" stroke-width="2.5" />
<line x1="399.23" y1="1689.7" x2="399.23" y2="1685.7" stroke="#777" stroke-width="2.5" />
<line x1="399.23" y1="996.8" x2="399.23" y2="1000.8" stroke="#888" stroke-width="2.5" />
<line x1="415.15" y1="1689.7" x2="415.15" y2="1685.7" stroke="#777" stroke-width="2.5" />
<line x1="415.15" y1="996.8" x2="415.15" y2="1000.8" stroke="#888" stroke-width="2.5" />
<line x1="431.08" y1="1689.7" x2="431.08" y2="1685.7" stroke="#777" stroke-width="2.5" />
<line x1="431.08" y1="996.8" x2="431.08" y2="1000.8" stroke="#888" stroke-width="2.5" />
<line x1="462.93" y1="1689.7" x2="462.93" y2="1685.7" stroke="#777" stroke-width="2.5" />
<line x1="462.93" y1="996.8" x2="462.93" y2="1000.8" stroke="#888" stroke-width="2.5" />
<line x1="478.85" y1="1689.7" x2="478.85" y2="1685.7" stroke="#777" stroke-width="2.5" />
<line x1="478.85" y1="996.8" x2="478.85" y2="1000.8" stroke="#888" stroke-width="2.5" />
<line x1="494.77" y1="1689.7" x2="494.77" y2="1685.7" stroke="#777" stroke-width="2.5" />
<line x1="494.77" y1="996.8" x2="494.77" y2="1000.8" stroke="#888" stroke-width="2.5" />
<line x1="510.7" y1="1689.7" x2="510.7" y2="1685.7" stroke="#777" stroke-width="2.5" />
<line x1="510.7" y1="996.8" x2="510.7" y2="1000.8" stroke="#888" stroke-width="2.5" />
<line x1="526.62" y1="1689.7" x2="526.62" y2="1685.7" stroke="#777" stroke-width="2.5" />
<line x1="526.62" y1="996.8" x2="526.62" y2="1000.8" stroke="#888" stroke-width="2.5" />
<line x1="558.48" y1="1689.7" x2="558.48" y2="1685.7" stroke="#777" stroke-width="2.5" />
<line x1="558.48" y1="996.8" x2="558.48" y2="1000.8" stroke="#888" stroke-width="2.5" />
<line x1="574.4" y1="1689.7" x2="574.4" y2="1685.7" stroke="#777" stroke-width="2.5" />
<line x1="574.4" y1="996.8" x2="574.4" y2="1000.8" stroke="#888" stroke-width="2.5" />
<line x1="590.33" y1="1689.7" x2="590.33" y2="1685.7" stroke="#777" stroke-width="2.5" />
<line x1="590.33" y1="996.8" x2="590.33" y2="1000.8" stroke="#888" stroke-width="2.5" />
<line x1="606.25" y1="1689.7" x2="606.25" y2="1685.7" stroke="#777" stroke-width="2.5" />
<line x1="606.25" y1="996.8" x2="606.25" y2="1000.8" stroke="#888" stroke-width="2.5" />
<line x1="622.18" y1="1689.7" x2="622.18" y2="1685.7" stroke="#777" stroke-width="2.5" />
<line x1="622.18" y1="996.8" x2="622.18" y2="1000.8" stroke="#888" stroke-width="2.5" />
<line x1="654.03" y1="1689.7" x2="654.03" y2="1685.7" stroke="#777" stroke-width="2.5" />
<line x1="654.03" y1="996.8" x2="654.03" y2="1000.8" stroke="#888" stroke-width="2.5" />
<line x1="669.95" y1="1689.7" x2="669.95" y2="1685.7" stroke="#777" stroke-width="2.5" />
<line x1="669.95" y1="996.8" x2="669.95" y2="1000.8" stroke="#888" stroke-width="2.5" />
<line x1="685.88" y1="1689.7" x2="685.88" y2="1685.7" stroke="#777" stroke-width="2.5" />
<line x1="685.88" y1="996.8" x2="685.88" y2="1000.8" stroke="#888" stroke-width="2.5" />
<line x1="701.8" y1="1689.7" x2="701.8" y2="1685.7" stroke="#777" stroke-width="2.5" />
<line x1="701.8" y1="996.8" x2="701.8" y2="1000.8" stroke="#888" stroke-width="2.5" />
<line x1="717.73" y1="1689.7" x2="717.73" y2="1685.7" stroke="#777" stroke-width="2.5" />
<line x1="717.73" y1="996.8" x2="717.73" y2="1000.8" stroke="#888" stroke-width="2.5" />
<line x1="749.58" y1="1689.7" x2="749.58" y2="1685.7" stroke="#777" stroke-width="2.5" />
<line x1="749.58" y1="996.8" x2="749.58" y2="1000.8" stroke="#888" stroke-width="2.5" />
<line x1="765.5" y1="1689.7" x2="765.5" y2="1685.7" stroke="#777" stroke-width="2.5" />
<line x1="765.5" y1="996.8" x2="765.5" y2="1000.8" stroke="#888" stroke-width="2.5" />
<line x1="781.42" y1="1689.7" x2="781.42" y2="1685.7" stroke="#777" stroke-width="2.5" />
<line x1="781.42" y1="996.8" x2="781.42" y2="1000.8" stroke="#888" stroke-width="2.5" />
<line x1="797.35" y1="1689.7" x2="797.35" y2="1685.7" stroke="#777" stroke-width="2.5" />
<line x1="797.35" y1="996.8" x2="797.35" y2="1000.8" stroke="#888" stroke-width="2.5" />
<line x1="813.28" y1="1689.7" x2="813.28" y2="1685.7" stroke="#777" stroke-width="2.5" />
<line x1="813.28" y1="996.8" x2="813.28" y2="1000.8" stroke="#888" stroke-width="2.5" />
<line x1="845.12" y1="1689.7" x2="845.12" y2="1685.7" stroke="#777" stroke-width="2.5" />
<line x1="845.12" y1="996.8" x2="845.12" y2="1000.8" stroke="#888" stroke-width="2.5" />
<line x1="861.05" y1="1689.7" x2="861.05" y2="1685.7" stroke="#777" stroke-width="2.5" />
<line x1="861.05" y1="996.8" x2="861.05" y2="1000.8" stroke="#888" stroke-width="2.5" />
<line x1="876.97" y1="1689.7" x2="876.97" y2="1685.7" stroke="#777" stroke-width="2.5" />
<line x1="876.97" y1="996.8" x2="876.97" y2="1000.8" stroke="#888" stroke-width="2.5" />
<line x1="892.9" y1="1689.7" x2="892.9" y2="1685.7" stroke="#777" stroke-width="2.5" />
<line x1="892.9" y1="996.8" x2="892.9" y2="1000.8" stroke="#888" stroke-width="2.5" />
<line x1="908.83" y1="1689.7" x2="908.83" y2="1685.7" stroke="#777" stroke-width="2.5" />
<line x1="908.83" y1="996.8" x2="908.83" y2="1000.8" stroke="#888" stroke-width="2.5" />
<line x1="940.67" y1="1689.7" x2="940.67" y2="1685.7" stroke="#777" stroke-width="2.5" />
<line x1="940.67" y1="996.8" x2="940.67" y2="1000.8" stroke="#888" stroke-width="2.5" />
<line x1="956.6" y1="1689.7" x2="956.6" y2="1685.7" stroke="#777" stroke-width="2.5" />
<line x1="956.6" y1="996.8" x2="956.6" y2="1000.8" stroke="#888" stroke-width="2.5" />
<line x1="972.52" y1="1689.7" x2="972.52" y2="1685.7" stroke="#777" stroke-width="2.5" />
<line x1="972.52" y1="996.8" x2="972.52" y2="1000.8" stroke="#888" stroke-width="2.5" />
<line x1="988.45" y1="1689.7" x2="988.45" y2="1685.7" stroke="#777" stroke-width="2.5" />
<line x1="988.45" y1="996.8" x2="988.45" y2="1000.8" stroke="#888" stroke-width="2.5" />
<line x1="1004.38" y1="1689.7" x2="1004.38" y2="1685.7" stroke="#777" stroke-width="2.5" />
<line x1="1004.38" y1="996.8" x2="1004.38" y2="1000.8" stroke="#888" stroke-width="2.5" />
<line x1="1036.23" y1="1689.7" x2="1036.23" y2="1685.7" stroke="#777" stroke-width="2.5" />
<line x1="1036.23" y1="996.8" x2="1036.23" y2="1000.8" stroke="#888" stroke-width="2.5" />
<line x1="1052.15" y1="1689.7" x2="1052.15" y2="1685.7" stroke="#777" stroke-width="2.5" />
<line x1="1052.15" y1="996.8" x2="1052.15" y2="1000.8" stroke="#888" stroke-width="2.5" />
<text transform="translate(258.4 1750) scale(1 1.035)" font-size="67" text-anchor="middle" font-family="'Liberation Serif', 'Times New Roman', serif" >10</text>
<text transform="translate(353.95 1750) scale(1 1.035)" font-size="67" text-anchor="middle" font-family="'Liberation Serif', 'Times New Roman', serif" >20</text>
<text transform="translate(449.5 1750) scale(1 1.035)" font-size="67" text-anchor="middle" font-family="'Liberation Serif', 'Times New Roman', serif" >30</text>
<text transform="translate(545.05 1750) scale(1 1.035)" font-size="67" text-anchor="middle" font-family="'Liberation Serif', 'Times New Roman', serif" >40</text>
<text transform="translate(640.6 1750) scale(1 1.035)" font-size="67" text-anchor="middle" font-family="'Liberation Serif', 'Times New Roman', serif" >50</text>
<text transform="translate(736.15 1750) scale(1 1.035)" font-size="67" text-anchor="middle" font-family="'Liberation Serif', 'Times New Roman', serif" >60</text>
<text transform="translate(831.7 1750) scale(1 1.035)" font-size="67" text-anchor="middle" font-family="'Liberation Serif', 'Times New Roman', serif" >70</text>
<text transform="translate(927.25 1750) scale(1 1.035)" font-size="67" text-anchor="middle" font-family="'Liberation Serif', 'Times New Roman', serif" >80</text>
<text transform="translate(1022.8 1750) scale(1 1.035)" font-size="67" text-anchor="middle" font-family="'Liberation Serif', 'Times New Roman', serif" >90</text>
<text transform="translate(638.4 1820.8) scale(1 1.035)" font-size="80.65" text-anchor="middle" font-family="'Liberation Serif', 'Times New Roman', serif" >Height of filtration channels (μm)</text>
<text transform="translate(98.8 1344.6) rotate(-90)" font-size="80.6" text-anchor="middle" font-family="'Liberation Serif', 'Times New Roman', serif">Pressure drop (Pa)</text>
<path d="M1407.13,998 L1407.13,998 L1409.13,1043.96 L1411.13,1084.92 L1413.13,1121.59 L1415.13,1154.55 L1417.13,1184.3 L1419.13,1211.24 L1421.13,1235.73 L1423.13,1258.06 L1425.14,1278.47 L1427.14,1297.19 L1429.14,1314.4 L1431.14,1330.26 L1433.14,1344.91 L1435.14,1358.47 L1437.14,1371.05 L1439.14,1382.75 L1441.14,1393.64 L1443.15,1403.79 L1445.15,1413.29 L1447.15,1422.17 L1449.15,1430.5 L1451.15,1438.31 L1453.15,1445.66 L1455.15,1452.58 L1457.15,1459.1 L1459.15,1465.25 L1461.15,1471.06 L1463.16,1476.55 L1465.16,1481.76 L1467.16,1486.69 L1469.16,1491.37 L1471.16,1495.82 L1473.16,1500.04 L1475.16,1504.06 L1477.16,1507.89 L1479.16,1511.54 L1481.17,1515.02 L1483.17,1518.34 L1485.17,1521.52 L1487.17,1524.55 L1489.17,1527.45 L1491.17,1530.23 L1493.17,1532.89 L1495.17,1535.45 L1497.17,1537.9 L1499.17,1540.24 L1501.18,1542.5 L1503.18,1544.67 L1505.18,1546.75 L1507.18,1548.76 L1509.18,1550.69 L1511.18,1552.55 L1513.18,1554.34 L1515.18,1556.07 L1517.18,1557.73 L1519.19,1559.34 L1521.19,1560.89 L1523.19,1562.39 L1525.19,1563.83 L1527.19,1565.23 L1529.19,1566.58 L1531.19,1567.89 L1533.19,1569.16 L1535.19,1570.38 L1537.2,1571.57 L1539.2,1572.72 L1541.2,1573.83 L1543.2,1574.91 L1545.2,1575.96 L1547.2,1576.97 L1549.2,1577.96 L1551.2,1578.92 L1553.2,1579.85 L1555.2,1580.75 L1557.21,1581.63 L1559.21,1582.48 L1561.21,1583.31 L1563.21,1584.11 L1565.21,1584.9 L1567.21,1585.66 L1569.21,1586.4 L1571.21,1587.12 L1573.21,1587.83 L1575.22,1588.51 L1577.22,1589.18 L1579.22,1589.83 L1581.22,1590.46 L1583.22,1591.08 L1585.22,1591.69 L1587.22,1592.27 L1589.22,1592.85 L1591.22,1593.41 L1593.22,1593.95 L1595.23,1594.49 L1597.23,1595.01 L1599.23,1595.52 L1601.23,1596.01 L1603.23,1596.5 L1605.23,1596.97 L1607.23,1597.43 L1609.23,1597.89 L1611.23,1598.33 L1613.24,1598.76 L1615.24,1599.19 L1617.24,1599.6 L1619.24,1600.01 L1621.24,1600.4 L1623.24,1600.79 L1625.24,1601.17 L1627.24,1601.54 L1629.24,1601.91 L1631.24,1602.26 L1633.25,1602.61 L1635.25,1602.96 L1637.25,1603.29 L1639.25,1603.62 L1641.25,1603.94 L1643.25,1604.26 L1645.25,1604.57 L1647.25,1604.87 L1649.25,1605.17 L1651.26,1605.46 L1653.26,1605.75 L1655.26,1606.03 L1657.26,1606.3 L1659.26,1606.57 L1661.26,1606.84 L1663.26,1607.1 L1665.26,1607.36 L1667.26,1607.61 L1669.26,1607.85 L1671.27,1608.1 L1673.27,1608.33 L1675.27,1608.57 L1677.27,1608.8 L1679.27,1609.02 L1681.27,1609.24 L1683.27,1609.46 L1685.27,1609.68 L1687.27,1609.89 L1689.28,1610.09 L1691.28,1610.3 L1693.28,1610.5 L1695.28,1610.69 L1697.28,1610.89 L1699.28,1611.08 L1701.28,1611.26 L1703.28,1611.45 L1705.28,1611.63 L1707.29,1611.8 L1709.29,1611.98 L1711.29,1612.15 L1713.29,1612.32 L1715.29,1612.49 L1717.29,1612.65 L1719.29,1612.81 L1721.29,1612.97 L1723.29,1613.13 L1725.29,1613.28 L1727.3,1613.44 L1729.3,1613.59 L1731.3,1613.73 L1733.3,1613.88 L1735.3,1614.02 L1737.3,1614.16 L1739.3,1614.3 L1741.3,1614.44 L1743.3,1614.57 L1745.31,1614.7 L1747.31,1614.84 L1749.31,1614.96 L1751.31,1615.09 L1753.31,1615.22 L1755.31,1615.34 L1757.31,1615.46 L1759.31,1615.58 L1761.31,1615.7 L1763.31,1615.82 L1765.32,1615.93 L1767.32,1616.05 L1769.32,1616.16 L1771.32,1616.27 L1773.32,1616.38 L1775.32,1616.49 L1777.32,1616.59 L1779.32,1616.7 L1781.32,1616.8 L1783.33,1616.9 L1785.33,1617 L1787.33,1617.1 L1789.33,1617.2 L1791.33,1617.3 L1793.33,1617.39 L1795.33,1617.49 L1797.33,1617.58 L1799.33,1617.67 L1801.33,1617.76 L1803.34,1617.85 L1805.34,1617.94 L1807.34,1618.03 L1809.34,1618.11 L1811.34,1618.2 L1813.34,1618.28 L1815.34,1618.36 L1817.34,1618.45 L1819.34,1618.53 L1821.35,1618.61 L1823.35,1618.69 L1825.35,1618.76 L1827.35,1618.84 L1829.35,1618.92 L1831.35,1618.99 L1833.35,1619.07 L1835.35,1619.14 L1837.35,1619.21 L1839.36,1619.29 L1841.36,1619.36 L1843.36,1619.43 L1845.36,1619.5 L1847.36,1619.56 L1849.36,1619.63 L1851.36,1619.7 L1853.36,1619.77 L1855.36,1619.83 L1857.36,1619.9 L1859.37,1619.96 L1861.37,1620.02 L1863.37,1620.09 L1865.37,1620.15 L1867.37,1620.21 L1869.37,1620.27 L1871.37,1620.33 L1873.37,1620.39 L1875.37,1620.45 L1877.38,1620.51 L1879.38,1620.56 L1881.38,1620.62 L1883.38,1620.68 L1885.38,1620.73 L1887.38,1620.79 L1889.38,1620.84 L1891.38,1620.89 L1893.38,1620.95 L1895.38,1621 L1897.39,1621.05 L1899.39,1621.1 L1901.39,1621.15 L1903.39,1621.2 L1905.39,1621.25 L1907.39,1621.3 L1909.39,1621.35 L1911.39,1621.4 L1913.39,1621.45 L1915.4,1621.5 L1917.4,1621.54 L1919.4,1621.59 L1921.4,1621.64 L1923.4,1621.68 L1925.4,1621.73 L1927.4,1621.77 L1929.4,1621.82 L1931.4,1621.86 L1933.4,1621.9 L1935.41,1621.95 L1937.41,1621.99 L1939.41,1622.03 L1941.41,1622.07 L1943.41,1622.11 L1945.41,1622.16 L1947.41,1622.2 L1949.41,1622.24 L1951.41,1622.28 L1953.42,1622.32 L1955.42,1622.35 L1957.42,1622.39 L1959.42,1622.43 L1961.42,1622.47 L1963.42,1622.51 L1965.42,1622.54 L1967.42,1622.58 L1969.42,1622.62 L1971.42,1622.65 L1973.43,1622.69 L1975.43,1622.73 L1977.43,1622.76 L1979.43,1622.8 L1981.43,1622.83 L1983.43,1622.87 L1985.43,1622.9 L1987.43,1622.93 L1989.43,1622.97 L1991.44,1623 L1993.44,1623.03 L1995.44,1623.06 L1997.44,1623.1 L1999.44,1623.13 L2001.44,1623.16 L2003.44,1623.19 L2005.44,1623.22 L2007.44,1623.25 L2009.45,1623.28 L2011.45,1623.31 L2013.45,1623.34 L2015.45,1623.37 L2017.45,1623.4 L2019.45,1623.43 L2021.45,1623.46 L2023.45,1623.49 L2025.45,1623.52 L2027.45,1623.55 L2029.46,1623.58 L2031.46,1623.6 L2033.46,1623.63 L2035.46,1623.66 L2037.46,1623.69 L2039.46,1623.71 L2041.46,1623.74 L2043.46,1623.77 L2045.46,1623.79 L2047.47,1623.82 L2049.47,1623.84 L2051.47,1623.87 L2053.47,1623.9 L2055.47,1623.92 L2057.47,1623.95 L2059.47,1623.97 L2061.47,1624 L2063.47,1624.02 L2065.47,1624.04 L2067.48,1624.07 L2069.48,1624.09 L2071.48,1624.12 L2073.48,1624.14 L2075.48,1624.16 L2077.48,1624.19 L2079.48,1624.21 L2081.48,1624.23 L2083.48,1624.25 L2085.49,1624.28 L2087.49,1624.3 L2089.49,1624.32 L2091.49,1624.34 L2093.49,1624.36 L2095.49,1624.39 L2097.49,1624.41 L2099.49,1624.43 L2101.49,1624.45 L2103.49,1624.47 L2105.5,1624.49 L2107.5,1624.51 L2109.5,1624.53 L2111.5,1624.55 L2113.5,1624.57 L2115.5,1624.59 L2117.5,1624.61 L2119.5,1624.63 L2121.5,1624.65 L2123.51,1624.67 L2125.51,1624.69 L2127.51,1624.71 L2129.51,1624.73 L2131.51,1624.75 L2133.51,1624.77 L2135.51,1624.79 L2137.51,1624.8 L2139.51,1624.82 L2141.52,1624.84 L2143.52,1624.86 L2145.52,1624.88 L2147.52,1624.89 L2149.52,1624.91 L2151.52,1624.93 L2153.52,1624.95 L2155.52,1624.96 L2157.52,1624.98 L2159.52,1625 L2161.53,1625.02 L2163.53,1625.03 L2165.53,1625.05 L2167.53,1625.07 L2169.53,1625.08 L2171.53,1625.1 L2173.53,1625.11 L2175.53,1625.13 L2177.53,1625.15 L2179.54,1625.16 L2181.54,1625.18 L2183.54,1625.19 L2185.54,1625.21 L2187.54,1625.23 L2189.54,1625.24 L2191.54,1625.26 L2193.54,1625.27 L2195.54,1625.29 L2197.54,1625.3 L2199.55,1625.32 L2201.55,1625.33 L2203.55,1625.35 L2205.55,1625.36 L2207.55,1625.37" fill="none" stroke="#f2303c" stroke-width="4"/>
<rect x="1397.9" y="1032.8" width="23" height="23" fill="#000" stroke="none" stroke-width="0" />
<rect x="1491.8" y="1499.2" width="23" height="23" fill="#000" stroke="none" stroke-width="0" />
<rect x="1585.7" y="1584.4" width="23" height="23" fill="#000" stroke="none" stroke-width="0" />
<rect x="1773.5" y="1617.6" width="23" height="23" fill="#000" stroke="none" stroke-width="0" />
<rect x="1961.3" y="1621.6" width="23" height="23" fill="#000" stroke="none" stroke-width="0" />
<rect x="2149.1" y="1623.6" width="23" height="23" fill="#000" stroke="none" stroke-width="0" />
<rect x="1838.5" y="1019" width="348" height="167" fill="none" stroke="#cdcdcd" stroke-width="3" />
<rect x="1907" y="1051.5" width="23" height="23" fill="#000" stroke="none" stroke-width="0" />
<line x1="1844.5" y1="1142.7" x2="1993" y2="1142.7" stroke="#ec3a48" stroke-width="5.5" />
<text transform="translate(2011 1086.2) scale(1 1.035)" font-size="63.5" text-anchor="start" font-family="'Liberation Serif', 'Times New Roman', serif" >Data</text>
<text transform="translate(2010 1165) scale(1 1.035)" font-size="63.5" text-anchor="start" font-family="'Liberation Serif', 'Times New Roman', serif" >Model</text>
<line x1="1362.5" y1="998" x2="2207.6" y2="998" stroke="#777" stroke-width="3.6" />
<line x1="2207.6" y1="996.5" x2="2207.6" y2="1677.9" stroke="#6a6a6a" stroke-width="3.6" />
<line x1="1362.5" y1="996.5" x2="1362.5" y2="1679.4" stroke="#6a6a6a" stroke-width="3.6" />
<line x1="1360.5" y1="1677.9" x2="2209.1" y2="1677.9" stroke="#606060" stroke-width="3.6" />
<line x1="1352.5" y1="998" x2="1362.5" y2="998" stroke="#555" stroke-width="3" />
<line x1="1357.5" y1="1677.9" x2="1362.5" y2="1677.9" stroke="#777" stroke-width="2.5" />
<line x1="2202.6" y1="1677.9" x2="2207.6" y2="1677.9" stroke="#777" stroke-width="2.5" />
<line x1="1352.5" y1="1637.9" x2="1362.5" y2="1637.9" stroke="#555" stroke-width="3" />
<line x1="2197.6" y1="1637.9" x2="2207.6" y2="1637.9" stroke="#555" stroke-width="3" />
<line x1="1357.5" y1="1597.9" x2="1362.5" y2="1597.9" stroke="#777" stroke-width="2.5" />
<line x1="2202.6" y1="1597.9" x2="2207.6" y2="1597.9" stroke="#777" stroke-width="2.5" />
<line x1="1352.5" y1="1557.9" x2="1362.5" y2="1557.9" stroke="#555" stroke-width="3" />
<line x1="2197.6" y1="1557.9" x2="2207.6" y2="1557.9" stroke="#555" stroke-width="3" />
<line x1="1357.5" y1="1517.9" x2="1362.5" y2="1517.9" stroke="#777" stroke-width="2.5" />
<line x1="2202.6" y1="1517.9" x2="2207.6" y2="1517.9" stroke="#777" stroke-width="2.5" />
<line x1="1352.5" y1="1477.9" x2="1362.5" y2="1477.9" stroke="#555" stroke-width="3" />
<line x1="2197.6" y1="1477.9" x2="2207.6" y2="1477.9" stroke="#555" stroke-width="3" />
<line x1="1357.5" y1="1437.9" x2="1362.5" y2="1437.9" stroke="#777" stroke-width="2.5" />
<line x1="2202.6" y1="1437.9" x2="2207.6" y2="1437.9" stroke="#777" stroke-width="2.5" />
<line x1="1352.5" y1="1397.9" x2="1362.5" y2="1397.9" stroke="#555" stroke-width="3" />
<line x1="2197.6" y1="1397.9" x2="2207.6" y2="1397.9" stroke="#555" stroke-width="3" />
<line x1="1357.5" y1="1357.9" x2="1362.5" y2="1357.9" stroke="#777" stroke-width="2.5" />
<line x1="2202.6" y1="1357.9" x2="2207.6" y2="1357.9" stroke="#777" stroke-width="2.5" />
<line x1="1352.5" y1="1317.9" x2="1362.5" y2="1317.9" stroke="#555" stroke-width="3" />
<line x1="2197.6" y1="1317.9" x2="2207.6" y2="1317.9" stroke="#555" stroke-width="3" />
<line x1="1357.5" y1="1277.9" x2="1362.5" y2="1277.9" stroke="#777" stroke-width="2.5" />
<line x1="2202.6" y1="1277.9" x2="2207.6" y2="1277.9" stroke="#777" stroke-width="2.5" />
<line x1="1352.5" y1="1237.9" x2="1362.5" y2="1237.9" stroke="#555" stroke-width="3" />
<line x1="2197.6" y1="1237.9" x2="2207.6" y2="1237.9" stroke="#555" stroke-width="3" />
<line x1="1357.5" y1="1197.9" x2="1362.5" y2="1197.9" stroke="#777" stroke-width="2.5" />
<line x1="2202.6" y1="1197.9" x2="2207.6" y2="1197.9" stroke="#777" stroke-width="2.5" />
<line x1="1352.5" y1="1157.9" x2="1362.5" y2="1157.9" stroke="#555" stroke-width="3" />
<line x1="2197.6" y1="1157.9" x2="2207.6" y2="1157.9" stroke="#555" stroke-width="3" />
<line x1="1357.5" y1="1117.9" x2="1362.5" y2="1117.9" stroke="#777" stroke-width="2.5" />
<line x1="2202.6" y1="1117.9" x2="2207.6" y2="1117.9" stroke="#777" stroke-width="2.5" />
<line x1="1352.5" y1="1077.9" x2="1362.5" y2="1077.9" stroke="#555" stroke-width="3" />
<line x1="2197.6" y1="1077.9" x2="2207.6" y2="1077.9" stroke="#555" stroke-width="3" />
<line x1="1357.5" y1="1037.9" x2="1362.5" y2="1037.9" stroke="#777" stroke-width="2.5" />
<line x1="2202.6" y1="1037.9" x2="2207.6" y2="1037.9" stroke="#777" stroke-width="2.5" />
<text transform="translate(1345.5 1660.9) scale(1 1.035)" font-size="67" text-anchor="end" font-family="'Liberation Serif', 'Times New Roman', serif" >0.0</text>
<text transform="translate(1345.5 1580.9) scale(1 1.035)" font-size="67" text-anchor="end" font-family="'Liberation Serif', 'Times New Roman', serif" >0.2</text>
<text transform="translate(1345.5 1500.9) scale(1 1.035)" font-size="67" text-anchor="end" font-family="'Liberation Serif', 'Times New Roman', serif" >0.4</text>
<text transform="translate(1345.5 1420.9) scale(1 1.035)" font-size="67" text-anchor="end" font-family="'Liberation Serif', 'Times New Roman', serif" >0.6</text>
<text transform="translate(1345.5 1340.9) scale(1 1.035)" font-size="67" text-anchor="end" font-family="'Liberation Serif', 'Times New Roman', serif" >0.8</text>
<text transform="translate(1345.5 1260.9) scale(1 1.035)" font-size="67" text-anchor="end" font-family="'Liberation Serif', 'Times New Roman', serif" >1.0</text>
<text transform="translate(1345.5 1180.9) scale(1 1.035)" font-size="67" text-anchor="end" font-family="'Liberation Serif', 'Times New Roman', serif" >1.2</text>
<text transform="translate(1345.5 1100.9) scale(1 1.035)" font-size="67" text-anchor="end" font-family="'Liberation Serif', 'Times New Roman', serif" >1.4</text>
<text transform="translate(1345.5 1020.9) scale(1 1.035)" font-size="67" text-anchor="end" font-family="'Liberation Serif', 'Times New Roman', serif" >1.6</text>
<line x1="1409.4" y1="1677.9" x2="1409.4" y2="1685.9" stroke="#555" stroke-width="3" />
<line x1="1409.4" y1="998" x2="1409.4" y2="1007" stroke="#555" stroke-width="3" />
<line x1="1503.3" y1="1677.9" x2="1503.3" y2="1685.9" stroke="#555" stroke-width="3" />
<line x1="1503.3" y1="998" x2="1503.3" y2="1007" stroke="#555" stroke-width="3" />
<line x1="1597.2" y1="1677.9" x2="1597.2" y2="1685.9" stroke="#555" stroke-width="3" />
<line x1="1597.2" y1="998" x2="1597.2" y2="1007" stroke="#555" stroke-width="3" />
<line x1="1691.1" y1="1677.9" x2="1691.1" y2="1685.9" stroke="#555" stroke-width="3" />
<line x1="1691.1" y1="998" x2="1691.1" y2="1007" stroke="#555" stroke-width="3" />
<line x1="1785" y1="1677.9" x2="1785" y2="1685.9" stroke="#555" stroke-width="3" />
<line x1="1785" y1="998" x2="1785" y2="1007" stroke="#555" stroke-width="3" />
<line x1="1878.9" y1="1677.9" x2="1878.9" y2="1685.9" stroke="#555" stroke-width="3" />
<line x1="1878.9" y1="998" x2="1878.9" y2="1007" stroke="#555" stroke-width="3" />
<line x1="1972.8" y1="1677.9" x2="1972.8" y2="1685.9" stroke="#555" stroke-width="3" />
<line x1="1972.8" y1="998" x2="1972.8" y2="1007" stroke="#555" stroke-width="3" />
<line x1="2066.7" y1="1677.9" x2="2066.7" y2="1685.9" stroke="#555" stroke-width="3" />
<line x1="2066.7" y1="998" x2="2066.7" y2="1007" stroke="#555" stroke-width="3" />
<line x1="2160.6" y1="1677.9" x2="2160.6" y2="1685.9" stroke="#555" stroke-width="3" />
<line x1="2160.6" y1="998" x2="2160.6" y2="1007" stroke="#555" stroke-width="3" />
<line x1="1456.35" y1="1677.9" x2="1456.35" y2="1681.9" stroke="#777" stroke-width="2.5" />
<line x1="1456.35" y1="998" x2="1456.35" y2="1002" stroke="#777" stroke-width="2.5" />
<line x1="1550.25" y1="1677.9" x2="1550.25" y2="1681.9" stroke="#777" stroke-width="2.5" />
<line x1="1550.25" y1="998" x2="1550.25" y2="1002" stroke="#777" stroke-width="2.5" />
<line x1="1644.15" y1="1677.9" x2="1644.15" y2="1681.9" stroke="#777" stroke-width="2.5" />
<line x1="1644.15" y1="998" x2="1644.15" y2="1002" stroke="#777" stroke-width="2.5" />
<line x1="1738.05" y1="1677.9" x2="1738.05" y2="1681.9" stroke="#777" stroke-width="2.5" />
<line x1="1738.05" y1="998" x2="1738.05" y2="1002" stroke="#777" stroke-width="2.5" />
<line x1="1831.95" y1="1677.9" x2="1831.95" y2="1681.9" stroke="#777" stroke-width="2.5" />
<line x1="1831.95" y1="998" x2="1831.95" y2="1002" stroke="#777" stroke-width="2.5" />
<line x1="1925.85" y1="1677.9" x2="1925.85" y2="1681.9" stroke="#777" stroke-width="2.5" />
<line x1="1925.85" y1="998" x2="1925.85" y2="1002" stroke="#777" stroke-width="2.5" />
<line x1="2019.75" y1="1677.9" x2="2019.75" y2="1681.9" stroke="#777" stroke-width="2.5" />
<line x1="2019.75" y1="998" x2="2019.75" y2="1002" stroke="#777" stroke-width="2.5" />
<line x1="2113.65" y1="1677.9" x2="2113.65" y2="1681.9" stroke="#777" stroke-width="2.5" />
<line x1="2113.65" y1="998" x2="2113.65" y2="1002" stroke="#777" stroke-width="2.5" />
<line x1="2207.55" y1="1677.9" x2="2207.55" y2="1681.9" stroke="#777" stroke-width="2.5" />
<line x1="2207.55" y1="998" x2="2207.55" y2="1002" stroke="#777" stroke-width="2.5" />
<text transform="translate(1412.9 1747.5) scale(1 1.035)" font-size="67" text-anchor="middle" font-family="'Liberation Serif', 'Times New Roman', serif" >10</text>
<text transform="translate(1506.8 1747.5) scale(1 1.035)" font-size="67" text-anchor="middle" font-family="'Liberation Serif', 'Times New Roman', serif" >20</text>
<text transform="translate(1600.7 1747.5) scale(1 1.035)" font-size="67" text-anchor="middle" font-family="'Liberation Serif', 'Times New Roman', serif" >30</text>
<text transform="translate(1694.6 1747.5) scale(1 1.035)" font-size="67" text-anchor="middle" font-family="'Liberation Serif', 'Times New Roman', serif" >40</text>
<text transform="translate(1788.5 1747.5) scale(1 1.035)" font-size="67" text-anchor="middle" font-family="'Liberation Serif', 'Times New Roman', serif" >50</text>
<text transform="translate(1882.4 1747.5) scale(1 1.035)" font-size="67" text-anchor="middle" font-family="'Liberation Serif', 'Times New Roman', serif" >60</text>
<text transform="translate(1976.3 1747.5) scale(1 1.035)" font-size="67" text-anchor="middle" font-family="'Liberation Serif', 'Times New Roman', serif" >70</text>
<text transform="translate(2070.2 1747.5) scale(1 1.035)" font-size="67" text-anchor="middle" font-family="'Liberation Serif', 'Times New Roman', serif" >80</text>
<text transform="translate(2164.1 1747.5) scale(1 1.035)" font-size="67" text-anchor="middle" font-family="'Liberation Serif', 'Times New Roman', serif" >90</text>
<text transform="translate(1784.8 1818) scale(1 1.035)" font-size="79.2" text-anchor="middle" font-family="'Liberation Serif', 'Times New Roman', serif" >Height of valve channels (μm)</text>
<text transform="translate(1239.6 1337.7) rotate(-90)" font-size="78.8" text-anchor="middle" font-family="'Liberation Serif', 'Times New Roman', serif">Pressure drop (Pa)</text>
<text transform="translate(32.27 119) scale(1 1.045)" font-size="119.5" text-anchor="start" font-family="'Liberation Sans', Arial, sans-serif" >A</text>
<text transform="translate(1149.2 133) scale(1 1.045)" font-size="119.5" text-anchor="start" font-family="'Liberation Sans', Arial, sans-serif" >B</text>
<text transform="translate(31.43 1015) scale(1 1.045)" font-size="119.5" text-anchor="start" font-family="'Liberation Sans', Arial, sans-serif" >C</text>
<text transform="translate(1147.2 1027.5) scale(1 1.045)" font-size="119.5" text-anchor="start" font-family="'Liberation Sans', Arial, sans-serif" >D</text>
</svg></div>
</body></html>
